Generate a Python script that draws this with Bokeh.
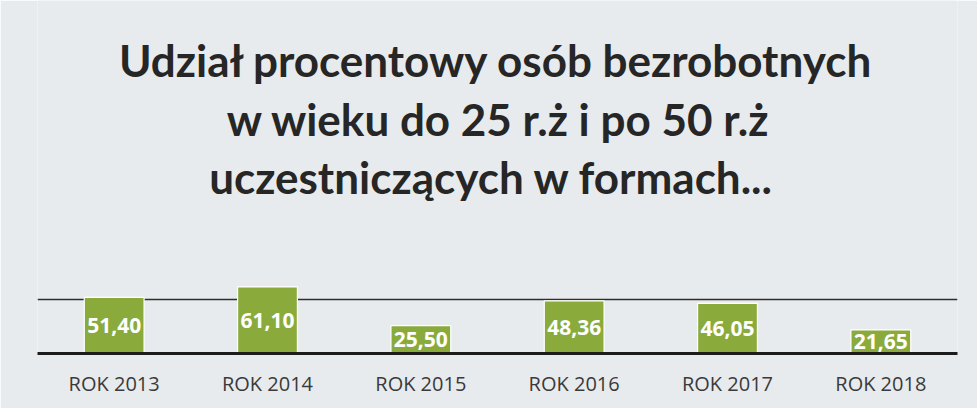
from bokeh.plotting import figure
from bokeh.models import ColumnDataSource, FactorRange, Range1d, FixedTicker, LabelSet
from bokeh.core.properties import value
from bokeh.embed import file_html
from bokeh.resources import INLINE

categories = ["ROK 2013", "ROK 2014", "ROK 2015", "ROK 2016", "ROK 2017", "ROK 2018"]
values = [51.40, 61.10, 25.50, 48.36, 46.05, 21.65]
labels = ["51,40", "61,10", "25,50", "48,36", "46,05", "21,65"]
grid_ticks = [50]
title_lines = [
    "Udział procentowy osób bezrobotnych",
    "w wieku do 25 r.ż i po 50 r.ż",
    "uczestniczących w formach...",
]

BG = "#e8ebed"
W, H = 977, 408
ML, MR, MB = 37, 20, 55
PX_PER_UNIT = 1.09
frame_h = H - MB
y_top = frame_h / PX_PER_UNIT

# title line vertical centres in pixels from top, converted through the scale
title_px = [59, 118, 176]
title_y = [(frame_h - s) / PX_PER_UNIT for s in title_px]
title_dx = [-1, 1, -6]

src = ColumnDataSource(dict(
    cat=categories,
    val=values,
    mid=[v / 2 for v in values],
    lab=labels,
))

p = figure(
    width=W, height=H,
    x_range=FactorRange(*categories, range_padding=0),
    y_range=Range1d(0, y_top),
    output_backend="svg", toolbar_location=None,
    min_border_left=ML, min_border_right=MR,
    min_border_top=0, min_border_bottom=MB,
    background_fill_color=BG, border_fill_color=BG,
    outline_line_color=None,
)
p.title = None

mid_cat = categories[len(categories) // 2 - 1]
tsrc = ColumnDataSource(dict(
    x=[(mid_cat, 0.5)] * len(title_lines),
    y=title_y,
    t=title_lines,
    dx=title_dx,
))
p.text(x="x", y="y", text="t", x_offset="dx", source=tsrc,
       text_align="center", text_baseline="middle",
       text_font=value("Lato"), text_font_style="bold",
       text_font_size="44px", text_color="#262626")

p.vbar(x="cat", top="val", width=0.39, source=src,
       fill_color="#8aab3c", line_color="white", line_width=1.2)

lbl = LabelSet(x="cat", y="mid", text="lab", source=src,
               text_align="center", text_baseline="middle",
               text_font=value("Open Sans"), text_font_style="bold",
               text_font_size="21px", text_color="white")
p.add_layout(lbl)

p.yaxis.visible = False
p.xgrid.grid_line_color = None
p.ygrid.ticker = FixedTicker(ticks=grid_ticks)
p.ygrid.grid_line_color = "#2e2e2e"
p.ygrid.grid_line_width = 1.5

ax = p.xaxis[0]
ax.axis_line_width = 3
ax.axis_line_color = "#1c1c1c"
ax.major_tick_line_color = None
ax.minor_tick_line_color = None
ax.major_tick_out = 0
ax.major_tick_in = 0
ax.major_label_text_font = "Open Sans"
ax.major_label_text_font_size = "20px"
ax.major_label_text_color = "#3a3a3a"
ax.major_label_standoff = 16

open("out.html", "w").write(file_html(p, INLINE))
